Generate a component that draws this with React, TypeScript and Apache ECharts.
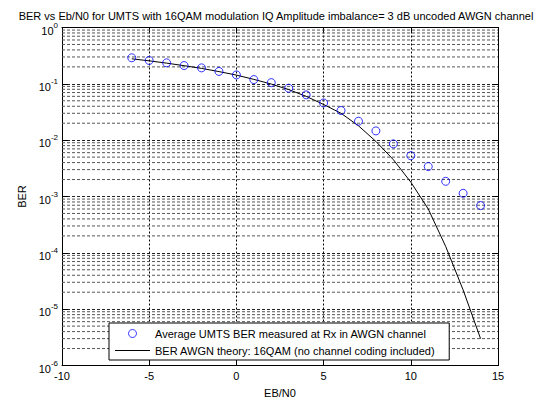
import React, { useEffect, useRef } from "react";
import * as echarts from "echarts";

const titleText =
  "BER vs Eb/N0 for UMTS with 16QAM modulation IQ Amplitude imbalance= 3 dB uncoded AWGN channel";

const ebn0 = [-6, -5, -4, -3, -2, -1, 0, 1, 2, 3, 4, 5, 6, 7, 8, 9, 10, 11, 12, 13, 14];

const measuredBer = [
  0.29, 0.26, 0.236, 0.211, 0.192, 0.166, 0.144, 0.119, 0.105, 0.0836, 0.0637,
  0.0458, 0.0336, 0.0217, 0.0146, 0.0086, 0.0053, 0.0034, 0.00186, 0.00114, 0.00069,
];

const theoryBer = [
  0.278, 0.256, 0.233, 0.21, 0.188, 0.165, 0.143, 0.12, 0.099, 0.079, 0.06,
  0.043, 0.03, 0.018, 0.0095, 0.0045, 0.0018, 0.0006, 0.00013, 0.000022, 0.000003,
];

const decades = [1e-6, 1e-5, 1e-4, 1e-3, 1e-2, 1e-1, 1];
const decadeExponents = ["-6", "-5", "-4", "-3", "-2", "-1", "0"];
const minorMultipliers = [2, 3, 4, 5, 6, 7, 8, 9];

const legendNames = [
  "Average UMTS BER measured at Rx in AWGN channel",
  "BER AWGN theory: 16QAM (no channel coding included)",
];

const FONT = "'Liberation Sans', Arial, sans-serif";

export default function App() {
  const ref = useRef<HTMLDivElement>(null);

  useEffect(() => {
    if (!ref.current) return;
    const chart = echarts.init(ref.current, undefined, { renderer: "svg" });

    const minorValues: number[] = [];
    for (let i = 0; i < decades.length - 1; i++) {
      for (const m of minorMultipliers) minorValues.push(decades[i] * m);
    }

    const expLabel = (v: number) => {
      const idx = decades.findIndex((d) => Math.abs(Math.log10(d) - Math.log10(v)) < 1e-6);
      if (idx < 0) return "";
      return "{b|10}{e|" + decadeExponents[idx] + "}";
    };

    const option: any = {
      animation: false,
      backgroundColor: "#ffffff",
      textStyle: { fontFamily: FONT },
      title: {
        text: titleText,
        left: "center",
        top: 5,
        textStyle: { fontSize: 11, fontWeight: "normal", color: "#000", fontFamily: FONT },
      },
      grid: { left: 62, right: 54, top: 27.5, bottom: 42.5, show: false },
      legend: {
        orient: "vertical",
        left: 109,
        top: 323,
        data: [
          {
            name: legendNames[0],
            icon: "circle",
            itemStyle: { color: "rgba(0,0,0,0)", borderColor: "#0000ff", borderWidth: 1 },
          },
          { name: legendNames[1], icon: "path://M0,0H70V2H0Z" },
        ],
        itemWidth: 35,
        itemHeight: 8,
        itemGap: 6,
        padding: [5, 14, 4, 6],
        borderColor: "#000",
        borderWidth: 1,
        backgroundColor: "#fff",
        textStyle: { fontSize: 11, color: "#000", fontFamily: FONT },
        selectedMode: false,
      },
      xAxis: [
        {
          type: "value",
          min: -10,
          max: 15,
          interval: 5,
          name: "EB/N0",
          nameLocation: "middle",
          nameGap: 22,
          nameTextStyle: { fontSize: 11, color: "#000", fontFamily: FONT },
          axisLine: { show: true, onZero: false, lineStyle: { color: "#000", width: 1 } },
          axisTick: { show: true, inside: true, length: 5, lineStyle: { color: "#000" } },
          axisLabel: { fontSize: 11, color: "#000", margin: 5, fontFamily: FONT },
          splitLine: { show: true, lineStyle: { type: [2, 2], color: "#000", width: 1 } },
        },
        {
          type: "value",
          min: -10,
          max: 15,
          interval: 5,
          position: "top",
          axisLine: { show: true, onZero: false, lineStyle: { color: "#000", width: 1 } },
          axisTick: { show: true, inside: true, length: 5, lineStyle: { color: "#000" } },
          axisLabel: { show: false },
          splitLine: { show: false },
        },
      ],
      yAxis: [
        {
          type: "log",
          logBase: 10,
          min: 1e-6,
          max: 1,
          name: "BER",
          nameLocation: "middle",
          nameGap: 32,
          nameRotate: 90,
          nameTextStyle: { fontSize: 11, color: "#000", fontFamily: FONT },
          axisLine: { show: true, onZero: false, lineStyle: { color: "#000", width: 1 } },
          axisTick: { show: true, inside: true, length: 6, lineStyle: { color: "#000" } },
          axisLabel: {
            color: "#000",
            margin: 4,
            formatter: expLabel,
            rich: {
              b: { fontSize: 11, color: "#000", fontFamily: FONT, padding: [6, 0, 0, 0] },
              e: { fontSize: 8, color: "#000", fontFamily: FONT, padding: [0, 0, 5, 0] },
            },
          },
          splitLine: { show: true, lineStyle: { type: [3, 2], color: "#222", width: 1 } },
        },
        {
          type: "log",
          logBase: 10,
          min: 1e-6,
          max: 1,
          position: "right",
          axisLine: { show: true, onZero: false, lineStyle: { color: "#000", width: 1 } },
          axisTick: { show: true, inside: true, length: 6, lineStyle: { color: "#000" } },
          axisLabel: { show: false },
          splitLine: { show: false },
        },
      ],
      series: [
        {
          type: "custom",
          silent: true,
          z: 1,
          clip: true,
          data: minorValues.map((v) => [-10, v]),
          renderItem: (params: any, api: any) => {
            const v = api.value(1);
            const p1 = api.coord([-10, v]);
            const p2 = api.coord([15, v]);
            return {
              type: "line",
              shape: { x1: p1[0], y1: p1[1], x2: p2[0], y2: p2[1] },
              style: { stroke: "#555", lineWidth: 1, lineDash: [3, 2], fill: null },
              silent: true,
            };
          },
        },
        {
          name: legendNames[0],
          type: "scatter",
          symbol: "circle",
          symbolSize: 8,
          z: 4,
          itemStyle: { color: "rgba(0,0,0,0)", borderColor: "#0000ff", borderWidth: 1 },
          data: ebn0.map((x, i) => [x, measuredBer[i]]),
        },
        {
          name: legendNames[1],
          type: "line",
          showSymbol: false,
          symbol: "none",
          z: 3,
          lineStyle: { color: "#000", width: 1 },
          itemStyle: { color: "#000" },
          data: ebn0.map((x, i) => [x, theoryBer[i]]),
        },
      ],
    };

    chart.setOption(option);
    return () => chart.dispose();
  }, []);

  return (
    <div
      ref={ref}
      style={{ position: "fixed", left: 0, top: 0, width: 552, height: 408, background: "#fff" }}
    />
  );
}
